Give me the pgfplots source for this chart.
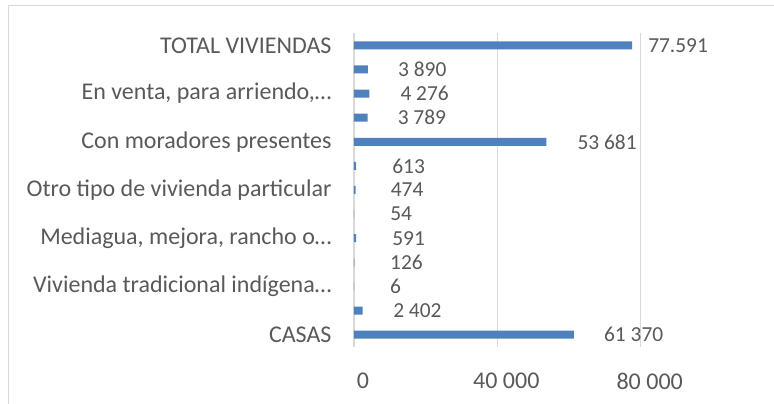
\documentclass[border=0pt]{standalone}
\usepackage{pgfplots}
\pgfplotsset{compat=1.18}
\usepackage{pgfplotstable}
\usepackage{fontspec}
\setmainfont{Carlito}
\definecolor{barblue}{HTML}{4F81BD}
\definecolor{txtgray}{HTML}{595959}
\definecolor{gridgray}{HTML}{D9D9D9}
\pgfplotstableread[col sep=comma]{
y,x,lab,sh
0,61370,61 370,30
1,2402,2 402,30.5
2,6,6,36
3,126,126,35.5
4,591,591,36
5,54,54,36
6,474,474,35
7,613,613,36
8,53681,53 681,31
9,3789,3 789,30
10,4276,4 276,31
11,3890,3 890,30
12,77591,77.591,16
}\datatable
\begin{document}
\begin{tikzpicture}
\path[use as bounding box] (0pt,0pt) rectangle (774pt,404pt);
\draw[gridgray, line width=1.5pt] (8.5pt,0pt) -- (8.5pt,398.5pt) -- (774pt,398.5pt);
\begin{axis}[
  at={(354pt,57.3pt)}, anchor=south west,
  scale only axis, width=286.7pt, height=313.4pt,
  xmin=0, xmax=80000, ymin=-0.5, ymax=12.5,
  xbar, bar width=8pt,
  axis line style={draw=none},
  major tick length=0pt,
  xmajorgrids, grid style={gridgray, line width=1.5pt},
  xtick={0,40000,80000}, xticklabels={0,40 000,80 000},
  ytick={0,2,4,6,8,10,12},
  yticklabels={CASAS,Vivienda tradicional indígena…,{Mediagua, mejora, rancho o…},Otro tipo de vivienda particular,Con moradores presentes,{En venta, para arriendo,…},TOTAL VIVIENDAS},
  xticklabel style={font=\fontsize{24pt}{26pt}\selectfont, text=txtgray, anchor=north, inner sep=0pt, yshift=-26pt, xshift=9pt},
  yticklabel style={font=\fontsize{24pt}{26pt}\selectfont, text=txtgray, anchor=east, inner sep=0pt, xshift=-22.3pt},
  point meta=explicit symbolic,
  nodes near coords,
  visualization depends on={\thisrow{sh} \as \myshift},
  nodes near coords style={anchor=west, inner sep=0pt, xshift=\myshift pt, font=\fontsize{21.4pt}{24pt}\selectfont, text=txtgray},
]
\addplot[fill=barblue, draw=none] table[x=x, y=y, meta=lab] {\datatable};
\end{axis}
\end{tikzpicture}
\end{document}
